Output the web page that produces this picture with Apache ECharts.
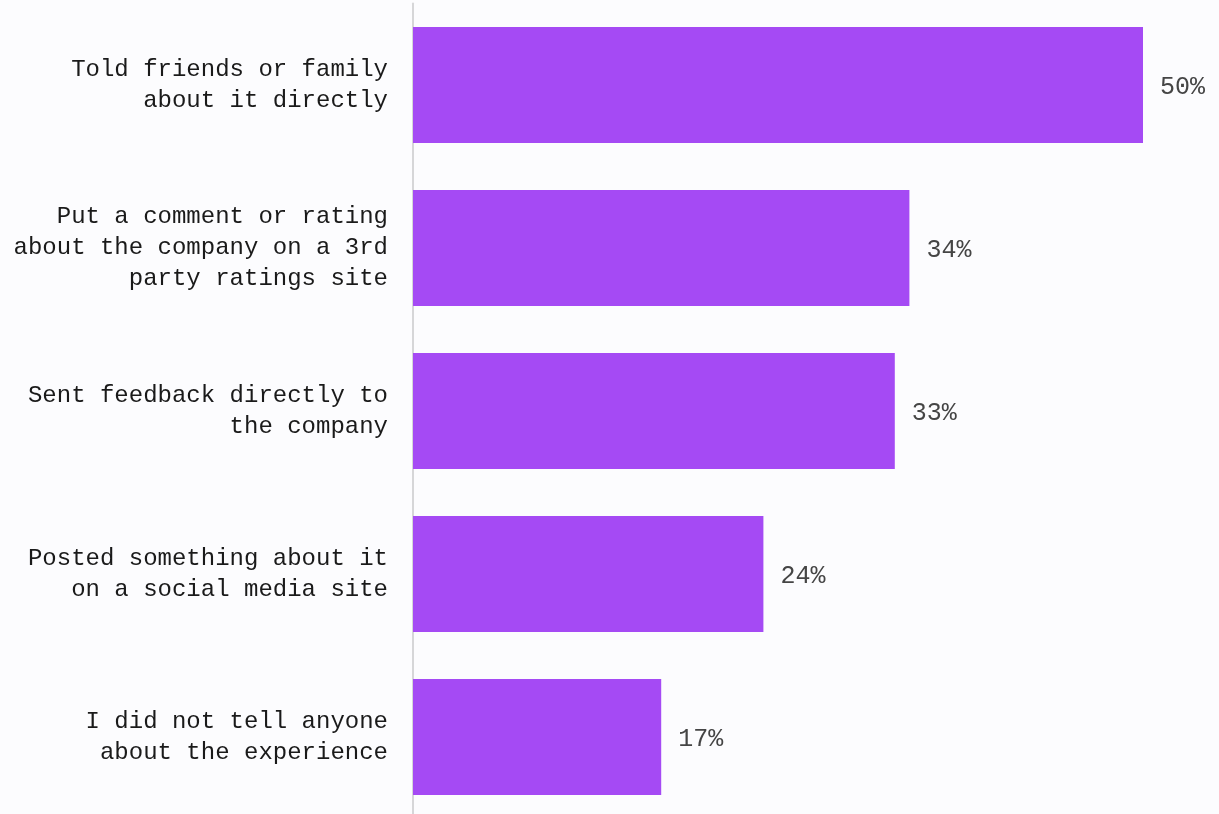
<!DOCTYPE html>
<html>
<head>
<meta charset="utf-8">
<script src="https://cdn.jsdelivr.net/npm/echarts@6/dist/echarts.min.js"></script>
<style>
  html, body { margin: 0; padding: 0; background: #fcfcfe; }
  #chart { width: 1219px; height: 814px; }
</style>
</head>
<body>
<div id="chart"></div>
<script>
// Responses, top to bottom
const categories = [
  'Told friends or family\nabout it directly',
  'Put a comment or rating\nabout the company on a 3rd\nparty ratings site',
  'Sent feedback directly to\nthe company',
  'Posted something about it\non a social media site',
  'I did not tell anyone\nabout the experience'
];
// Share of respondents, percent
const values = [50, 34, 33, 24, 17];

const chart = echarts.init(document.getElementById('chart'));
chart.setOption({
  backgroundColor: '#fcfcfe',
  animation: false,
  grid: { left: 413, top: 3.5, width: 730, height: 815, outerBoundsMode: 'none', containLabel: false },
  xAxis: {
    type: 'value',
    min: 0,
    max: 50,
    show: false
  },
  yAxis: {
    type: 'category',
    data: categories,
    inverse: true,
    axisLine: { show: true, lineStyle: { color: '#d6d6d8', width: 2 } },
    axisTick: { show: false },
    axisLabel: {
      margin: 25,
      fontFamily: '"Liberation Mono", "DejaVu Sans Mono", monospace',
      fontSize: 24,
      lineHeight: 31,
      color: '#1a1a1a',
      align: 'right'
    }
  },
  series: [{
    type: 'bar',
    data: values,
    barCategoryGap: '28.8%',
    itemStyle: { color: '#a54af4' },
    label: {
      show: true,
      position: 'right',
      distance: 17,
      offset: [0, 2],
      formatter: '{c}%',
      fontFamily: '"Liberation Mono", "DejaVu Sans Mono", monospace',
      fontSize: 25,
      color: '#454545'
    }
  }]
});
</script>
</body>
</html>
